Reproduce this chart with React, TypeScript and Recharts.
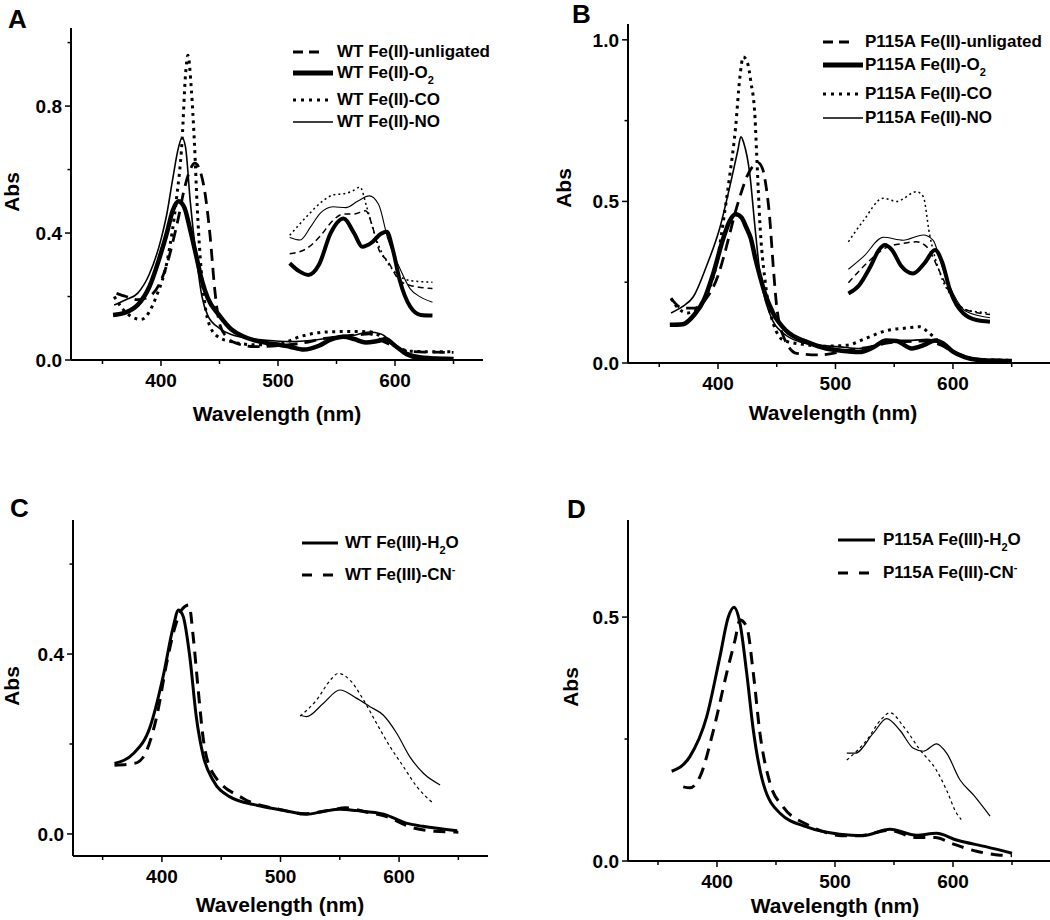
import React from 'react'
import { LineChart, Line, XAxis, YAxis, Legend } from 'recharts'

const FONT = '"Liberation Sans", Arial, Helvetica, sans-serif'

// shared wavelength ticks
const xMajorTicks = [400, 500, 600]
const xMinorTicks = [350, 450, 550, 650]

// ---------- A: WT Fe(II) ----------
const aUnlWl = [362, 370, 380, 390, 400, 405, 410, 415, 420, 425, 429, 433, 437, 442, 446, 450, 456, 465, 480, 500, 520, 540, 555, 570, 578, 590, 600, 610, 625, 650]
const aUnlAbs = [0.21, 0.2, 0.19, 0.2, 0.25, 0.3, 0.37, 0.45, 0.54, 0.6, 0.62, 0.6, 0.54, 0.39, 0.22, 0.115, 0.073, 0.052, 0.042, 0.045, 0.053, 0.068, 0.075, 0.08, 0.082, 0.058, 0.042, 0.028, 0.025, 0.024]
const aO2Wl = [359, 370, 380, 390, 400, 405, 410, 415, 420, 425, 430, 435, 440, 450, 460, 470, 480, 490, 500, 510, 522, 535, 545, 556, 565, 575, 585, 592, 600, 610, 620, 635, 650]
const aO2Abs = [0.142, 0.15, 0.173, 0.23, 0.337, 0.4, 0.47, 0.5, 0.48, 0.41, 0.33, 0.25, 0.195, 0.14, 0.097, 0.075, 0.062, 0.054, 0.049, 0.042, 0.033, 0.045, 0.064, 0.073, 0.066, 0.055, 0.06, 0.065, 0.045, 0.018, 0.007, 0.003, 0.003]
const aCoWl = [360, 370, 383, 396, 406, 413, 418, 421, 423, 426, 428.5, 431, 433.5, 437, 442, 450, 460, 480, 500, 520, 540, 560, 578, 590, 600, 612, 630, 650]
const aCoAbs = [0.2, 0.15, 0.128, 0.2, 0.325, 0.5, 0.69, 0.9, 0.96, 0.85, 0.69, 0.48, 0.325, 0.19, 0.105, 0.07, 0.058, 0.048, 0.05, 0.075, 0.088, 0.09, 0.089, 0.07, 0.045, 0.028, 0.026, 0.026]
const aNoWl = [360, 370, 380, 390, 400, 405, 410, 415, 418, 421, 425, 430, 435, 440, 450, 460, 470, 490, 510, 530, 550, 565, 578, 588, 598, 608, 620, 635, 650]
const aNoAbs = [0.173, 0.19, 0.21, 0.27, 0.38, 0.46, 0.57, 0.67, 0.7, 0.67, 0.5, 0.33, 0.2, 0.14, 0.1, 0.08, 0.071, 0.062, 0.058, 0.062, 0.072, 0.078, 0.088, 0.082, 0.055, 0.028, 0.014, 0.009, 0.007]
// magnified visible region (inset)
const aInsUnlWl = [510, 524, 536, 547, 556, 565, 575, 580, 586, 594, 604, 613, 632]
const aInsUnlAbs = [0.335, 0.35, 0.39, 0.44, 0.46, 0.46, 0.47, 0.43, 0.35, 0.31, 0.25, 0.235, 0.225]
const aInsO2Wl = [510, 518, 526, 535, 545, 556, 565, 572, 580, 588, 593, 598, 604, 613, 622, 632]
const aInsO2Abs = [0.305, 0.28, 0.268, 0.3, 0.4, 0.446, 0.4, 0.357, 0.37, 0.398, 0.404, 0.35, 0.252, 0.168, 0.142, 0.14]
const aInsCoWl = [510, 524, 538, 547, 558, 565, 570, 576, 584, 593, 602, 613, 632]
const aInsCoAbs = [0.393, 0.45, 0.5, 0.52, 0.525, 0.535, 0.545, 0.48, 0.38, 0.31, 0.27, 0.25, 0.245]
const aInsNoWl = [510, 519, 528, 536, 547, 558, 568, 578, 586, 594, 604, 613, 622, 632]
const aInsNoAbs = [0.386, 0.378, 0.42, 0.462, 0.483, 0.48, 0.5, 0.517, 0.49, 0.38, 0.29, 0.224, 0.198, 0.182]

// ---------- B: P115A Fe(II) ----------
const bUnlWl = [360, 370, 380, 390, 400, 405, 410, 415, 420, 425, 430, 434, 438, 441, 444, 447, 450, 456, 467, 487, 512, 530, 545, 560, 575, 590, 600, 610, 620, 650]
const bUnlAbs = [0.2, 0.17, 0.17, 0.2, 0.27, 0.33, 0.4, 0.47, 0.53, 0.58, 0.61, 0.62, 0.6, 0.545, 0.45, 0.3, 0.174, 0.08, 0.03, 0.025, 0.04, 0.05, 0.062, 0.066, 0.068, 0.055, 0.035, 0.02, 0.012, 0.008]
const bO2Wl = [359, 370, 380, 388, 396, 404, 410, 415, 420, 424, 428, 432, 436, 440, 447, 458, 475, 492, 505, 520, 532, 543, 552, 565, 575, 585, 592, 600, 610, 620, 635, 650]
const bO2Abs = [0.118, 0.12, 0.15, 0.195, 0.277, 0.38, 0.44, 0.46, 0.45, 0.42, 0.385, 0.32, 0.265, 0.215, 0.154, 0.1, 0.066, 0.045, 0.038, 0.034, 0.048, 0.07, 0.068, 0.045, 0.055, 0.07, 0.06, 0.035, 0.018, 0.01, 0.007, 0.006]
const bCoWl = [360, 366, 374, 382, 390, 400, 405, 410, 415, 418.5, 421.5, 425, 428, 431.5, 433, 435.7, 440, 447, 456, 472, 490, 510, 525, 543, 560, 572, 579, 590, 600, 610, 620, 650]
const bCoAbs = [0.2, 0.17, 0.155, 0.165, 0.21, 0.33, 0.45, 0.58, 0.73, 0.88, 0.947, 0.93, 0.87, 0.76, 0.64, 0.43, 0.257, 0.123, 0.07, 0.058, 0.052, 0.055, 0.075, 0.1, 0.108, 0.112, 0.095, 0.06, 0.035, 0.02, 0.012, 0.008]
const bNoWl = [360, 370, 379, 390, 401.7, 410, 417, 419.5, 422, 427, 431.5, 435.7, 444, 455.6, 475.5, 504, 520, 540, 550, 565, 578, 590, 600, 610, 620, 650]
const bNoAbs = [0.155, 0.175, 0.205, 0.298, 0.42, 0.545, 0.66, 0.7, 0.68, 0.587, 0.42, 0.277, 0.153, 0.092, 0.06, 0.05, 0.045, 0.06, 0.07, 0.07, 0.073, 0.058, 0.035, 0.02, 0.012, 0.008]
const bInsUnlWl = [511, 527, 542, 557.7, 569, 577.5, 589, 600, 611, 631.5]
const bInsUnlAbs = [0.248, 0.31, 0.355, 0.37, 0.375, 0.36, 0.28, 0.2, 0.165, 0.15]
const bInsO2Wl = [511, 520, 530, 537, 542, 548, 556, 566, 576, 584.7, 591, 597.4, 603, 608.8, 620, 631.5]
const bInsO2Abs = [0.215, 0.24, 0.3, 0.35, 0.365, 0.35, 0.3, 0.277, 0.31, 0.35, 0.31, 0.226, 0.18, 0.154, 0.133, 0.128]
const bInsCoWl = [511, 523.7, 540.7, 552, 569, 574.7, 580, 589, 600, 611, 631.5]
const bInsCoAbs = [0.375, 0.44, 0.51, 0.5, 0.53, 0.515, 0.4, 0.277, 0.2, 0.165, 0.155]
const bInsNoWl = [511, 524, 540.7, 557.7, 574.7, 583, 591.7, 600, 611, 631.5]
const bInsNoAbs = [0.29, 0.33, 0.389, 0.38, 0.396, 0.38, 0.288, 0.216, 0.16, 0.14]

// ---------- C: WT Fe(III) ----------
const cH2oWl = [360, 376, 390, 401, 409.5, 414, 418, 423.5, 429, 435, 443, 457, 480, 502, 522, 536, 550, 564, 587, 606, 620, 649]
const cH2oAbs = [0.157, 0.179, 0.238, 0.35, 0.46, 0.498, 0.483, 0.394, 0.26, 0.172, 0.12, 0.083, 0.064, 0.053, 0.044, 0.05, 0.055, 0.052, 0.044, 0.024, 0.017, 0.007]
const cCnWl = [360, 377, 384, 395.5, 404, 411, 416.6, 422.8, 426.4, 430.6, 435, 443, 468.6, 500, 520, 540, 555, 570, 590, 610, 630, 650]
const cCnAbs = [0.153, 0.157, 0.17, 0.26, 0.38, 0.46, 0.498, 0.509, 0.438, 0.32, 0.209, 0.135, 0.079, 0.054, 0.045, 0.052, 0.058, 0.05, 0.038, 0.015, 0.006, 0.004]
const cInsH2oWl = [516.5, 522, 536, 550, 564, 575.5, 586.8, 598, 609, 620.5, 634.6]
const cInsH2oAbs = [0.264, 0.261, 0.29, 0.32, 0.302, 0.283, 0.264, 0.224, 0.172, 0.135, 0.109]
const cInsCnWl = [516.5, 530.5, 542, 548.8, 558.6, 570, 581, 592.4, 603.6, 615, 629]
const cInsCnAbs = [0.262, 0.298, 0.342, 0.357, 0.342, 0.298, 0.246, 0.194, 0.15, 0.105, 0.068]

// ---------- D: P115A Fe(III) ----------
const dH2oWl = [361.6, 377, 391.3, 402.5, 409.6, 414.4, 419.5, 425.2, 430.8, 439.2, 453.4, 476, 504, 524, 546.6, 569, 586, 603, 628.5, 650]
const dH2oAbs = [0.184, 0.214, 0.296, 0.419, 0.5, 0.52, 0.487, 0.385, 0.268, 0.159, 0.098, 0.07, 0.055, 0.052, 0.065, 0.053, 0.057, 0.043, 0.029, 0.016]
const dCnWl = [371.4, 377, 385.6, 397, 408.2, 415.3, 419.5, 425.2, 430.8, 436.4, 445, 456, 476, 493, 505, 520, 546, 569, 585, 600, 620, 640, 650]
const dCnAbs = [0.152, 0.15, 0.173, 0.268, 0.385, 0.453, 0.494, 0.48, 0.385, 0.262, 0.159, 0.111, 0.075, 0.058, 0.052, 0.052, 0.063, 0.048, 0.048, 0.035, 0.02, 0.012, 0.011]
const dInsH2oWl = [510, 517, 532.5, 543.8, 555, 566.4, 575, 586, 594.6, 606, 617.5, 631.4]
const dInsH2oAbs = [0.221, 0.221, 0.262, 0.292, 0.268, 0.231, 0.225, 0.24, 0.221, 0.166, 0.135, 0.092]
const dInsCnWl = [510, 527, 538.7, 546.6, 558, 572, 586, 594.6, 603, 607]
const dInsCnAbs = [0.207, 0.248, 0.289, 0.304, 0.276, 0.228, 0.186, 0.145, 0.098, 0.085]

type LineStyle = { w: number; dash?: string }
const ST: Record<string, LineStyle> = {
  unl: { w: 2.8, dash: '12 7' },
  o2: { w: 4.5 },
  co: { w: 3, dash: '3 4.5' },
  no: { w: 1.6 },
  insUnl: { w: 1.5, dash: '6 4' },
  insO2: { w: 4 },
  insCo: { w: 1.5, dash: '2 3' },
  insNo: { w: 1.1 },
  h2o: { w: 3 },
  cn: { w: 3, dash: '12 8' },
  insH2o: { w: 1.2 },
  insCn: { w: 1.2, dash: '3 3' },
}

const zip = (wl: number[], abs: number[]) => wl.map((x, i) => ({ x, y: abs[i] }))

type Series = { name: string; data: { x: number; y: number }[]; style: LineStyle }
type LegendItem = { label: string; sub?: string; tail?: string; sup?: string; style: LineStyle; len: number }

const panels = [
  {
    key: 'A',
    box: { left: 0, top: 0 },
    margin: { top: 28, right: 42, bottom: 60, left: 11 },
    xDomain: [323.1, 675.2],
    yDomain: [0, 1.046],
    yMajor: [0, 0.4, 0.8],
    yMinor: [0.2, 0.6, 1.0],
    series: [
      { name: 'aUnl', data: zip(aUnlWl, aUnlAbs), style: ST.unl },
      { name: 'aO2', data: zip(aO2Wl, aO2Abs), style: ST.o2 },
      { name: 'aCo', data: zip(aCoWl, aCoAbs), style: ST.co },
      { name: 'aNo', data: zip(aNoWl, aNoAbs), style: ST.no },
      { name: 'aInsUnl', data: zip(aInsUnlWl, aInsUnlAbs), style: ST.insUnl },
      { name: 'aInsO2', data: zip(aInsO2Wl, aInsO2Abs), style: ST.insO2 },
      { name: 'aInsCo', data: zip(aInsCoWl, aInsCoAbs), style: ST.insCo },
      { name: 'aInsNo', data: zip(aInsNoWl, aInsNoAbs), style: ST.insNo },
    ] as Series[],
    legend: {
      x: 293, textX: 337, rows: [52, 73, 100, 122],
      items: [
        { label: 'WT Fe(II)-unligated', style: { w: 3, dash: '10 6' }, len: 26 },
        { label: 'WT Fe(II)-O', sub: '2', style: { w: 5 }, len: 40 },
        { label: 'WT Fe(II)-CO', style: { w: 3, dash: '3 5' }, len: 40 },
        { label: 'WT Fe(II)-NO', style: { w: 1.6 }, len: 40 },
      ] as LegendItem[],
    },
    letter: { x: 8, y: 28 },
    absLabel: { x: 19, y: 192 },
    wlLabel: { x: 277, y: 421 },
  },
  {
    key: 'B',
    box: { left: 525, top: 0 },
    margin: { top: 24, right: 0, bottom: 57, left: 43 },
    xDomain: [323.4, 682.6],
    yDomain: [0, 1.049],
    yMajor: [0, 0.5, 1.0],
    yMinor: [0.25, 0.75],
    series: [
      { name: 'bUnl', data: zip(bUnlWl, bUnlAbs), style: ST.unl },
      { name: 'bO2', data: zip(bO2Wl, bO2Abs), style: ST.o2 },
      { name: 'bCo', data: zip(bCoWl, bCoAbs), style: ST.co },
      { name: 'bNo', data: zip(bNoWl, bNoAbs), style: ST.no },
      { name: 'bInsUnl', data: zip(bInsUnlWl, bInsUnlAbs), style: ST.insUnl },
      { name: 'bInsO2', data: zip(bInsO2Wl, bInsO2Abs), style: ST.insO2 },
      { name: 'bInsCo', data: zip(bInsCoWl, bInsCoAbs), style: ST.insCo },
      { name: 'bInsNo', data: zip(bInsNoWl, bInsNoAbs), style: ST.insNo },
    ] as Series[],
    legend: {
      x: 298, textX: 340, rows: [42, 65, 94, 118],
      items: [
        { label: 'P115A Fe(II)-unligated', style: { w: 3, dash: '10 6' }, len: 26 },
        { label: 'P115A Fe(II)-O', sub: '2', style: { w: 5 }, len: 40 },
        { label: 'P115A Fe(II)-CO', style: { w: 3, dash: '3 5' }, len: 40 },
        { label: 'P115A Fe(II)-NO', style: { w: 1.6 }, len: 40 },
      ] as LegendItem[],
    },
    letter: { x: 47, y: 23 },
    absLabel: { x: 46, y: 188 },
    wlLabel: { x: 308, y: 420 },
  },
  {
    key: 'C',
    box: { left: 0, top: 460 },
    margin: { top: 60, right: 37, bottom: 24, left: 13 },
    xDomain: [325, 675],
    yDomain: [-0.049, 0.698],
    yMajor: [0, 0.4],
    yMinor: [0.2, 0.6],
    series: [
      { name: 'cH2o', data: zip(cH2oWl, cH2oAbs), style: ST.h2o },
      { name: 'cCn', data: zip(cCnWl, cCnAbs), style: ST.cn },
      { name: 'cInsH2o', data: zip(cInsH2oWl, cInsH2oAbs), style: ST.insH2o },
      { name: 'cInsCn', data: zip(cInsCnWl, cInsCnAbs), style: ST.insCn },
    ] as Series[],
    legend: {
      x: 302, textX: 345, rows: [83, 115],
      items: [
        { label: 'WT Fe(III)-H', sub: '2', tail: 'O', style: { w: 3 }, len: 36 },
        { label: 'WT Fe(III)-CN', sup: '-', style: { w: 3, dash: '10 11' }, len: 36 },
      ] as LegendItem[],
    },
    letter: { x: 10, y: 57 },
    absLabel: { x: 19, y: 226 },
    wlLabel: { x: 280, y: 452 },
  },
  {
    key: 'D',
    box: { left: 525, top: 460 },
    margin: { top: 60, right: 0, bottom: 19, left: 43 },
    xDomain: [324.6, 682.2],
    yDomain: [0, 0.699],
    yMajor: [0, 0.5],
    yMinor: [0.25],
    series: [
      { name: 'dH2o', data: zip(dH2oWl, dH2oAbs), style: ST.h2o },
      { name: 'dCn', data: zip(dCnWl, dCnAbs), style: ST.cn },
      { name: 'dInsH2o', data: zip(dInsH2oWl, dInsH2oAbs), style: ST.insH2o },
      { name: 'dInsCn', data: zip(dInsCnWl, dInsCnAbs), style: ST.insCn },
    ] as Series[],
    legend: {
      x: 313, textX: 358, rows: [80, 113],
      items: [
        { label: 'P115A Fe(III)-H', sub: '2', tail: 'O', style: { w: 3 }, len: 37 },
        { label: 'P115A Fe(III)-CN', sup: '-', style: { w: 3, dash: '10 11' }, len: 37 },
      ] as LegendItem[],
    },
    letter: { x: 42, y: 58 },
    absLabel: { x: 53, y: 227 },
    wlLabel: { x: 310, y: 453 },
  },
]

const makeYTick = (majors: number[]) => (props: any) => {
  const { x, y, payload } = props
  const major = majors.some((m) => Math.abs(m - payload.value) < 1e-9)
  return (
    <g>
      <line x1={x} x2={x - (major ? 6 : 3.5)} y1={y} y2={y} stroke="#000" strokeWidth={1.5} />
      {major && (
        <text x={x - 9} y={y + 7} textAnchor="end" fontFamily={FONT} fontWeight="bold" fontSize={19} fill="#000">
          {payload.value.toFixed(1)}
        </text>
      )}
    </g>
  )
}

const XTick = (props: any) => {
  const { x, y, payload } = props
  const major = xMajorTicks.includes(payload.value)
  return (
    <g>
      <line x1={x} x2={x} y1={y} y2={y + (major ? 6 : 4)} stroke="#000" strokeWidth={1.5} />
      {major && (
        <text x={x} y={y + 27} textAnchor="middle" fontFamily={FONT} fontWeight="bold" fontSize={19} fill="#000">
          {payload.value}
        </text>
      )}
    </g>
  )
}

function PanelLegend({ spec }: { spec: any }) {
  return (
    <div style={{ position: 'relative', width: 240, height: 130, fontFamily: FONT, fontWeight: 'bold', fontSize: 17, color: '#000' }}>
      {spec.items.map((it: LegendItem, i: number) => (
        <div
          key={it.label}
          style={{ position: 'absolute', left: 0, top: spec.rows[i] - 11, height: 22, display: 'flex', alignItems: 'center', whiteSpace: 'nowrap' }}
        >
          <svg width={spec.textX - spec.x} height={22} style={{ display: 'block' }}>
            <line x1={0} x2={it.len} y1={11} y2={11} stroke="#000" strokeWidth={it.style.w} strokeDasharray={it.style.dash} />
          </svg>
          <span>
            {it.label}
            {it.sub && <span style={{ fontSize: 11, position: 'relative', top: 6 }}>{it.sub}</span>}
            {it.tail}
            {it.sup && <span style={{ fontSize: 11, position: 'relative', top: -7 }}>{it.sup}</span>}
          </span>
        </div>
      ))}
    </div>
  )
}

function Panel({ p }: { p: (typeof panels)[number] }) {
  return (
    <div style={{ position: 'absolute', left: p.box.left, top: p.box.top, width: 525, height: 460 }}>
      <LineChart width={525} height={460} margin={p.margin}>
        <XAxis
          dataKey="x"
          type="number"
          domain={p.xDomain}
          allowDataOverflow
          ticks={[...xMajorTicks, ...xMinorTicks].sort((a, b) => a - b)}
          interval={0}
          height={40}
          tickLine={false}
          tickSize={0}
          tickMargin={0}
          tick={XTick}
          axisLine={{ stroke: '#000', strokeWidth: 2 }}
        />
        <YAxis
          dataKey="y"
          type="number"
          domain={p.yDomain}
          allowDataOverflow
          ticks={[...p.yMajor, ...p.yMinor].sort((a, b) => a - b)}
          interval={0}
          width={60}
          tickLine={false}
          tickSize={0}
          tickMargin={0}
          tick={makeYTick(p.yMajor)}
          axisLine={{ stroke: '#000', strokeWidth: 2 }}
        />
        {p.series.map((s) => (
          <Line
            key={s.name}
            name={s.name}
            data={s.data}
            dataKey="y"
            type="monotone"
            dot={false}
            activeDot={false}
            stroke="#000"
            strokeWidth={s.style.w}
            strokeDasharray={s.style.dash}
            isAnimationActive={false}
          />
        ))}
        <Legend
          layout="vertical"
          align="center"
          verticalAlign="middle"
          wrapperStyle={{ left: p.legend.x, top: 0, width: 240, height: 130, right: 'auto', bottom: 'auto' }}
          content={() => <PanelLegend spec={p.legend} />}
        />
      </LineChart>
      <svg width={525} height={460} style={{ position: 'absolute', left: 0, top: 0, pointerEvents: 'none', overflow: 'visible' }}>
        <text x={p.letter.x} y={p.letter.y} fontFamily={FONT} fontWeight="bold" fontSize={26} fill="#000">
          {p.key}
        </text>
        <text
          x={p.absLabel.x}
          y={p.absLabel.y}
          transform={`rotate(-90 ${p.absLabel.x} ${p.absLabel.y})`}
          textAnchor="middle"
          fontFamily={FONT}
          fontWeight="bold"
          fontSize={21}
          fill="#000"
        >
          Abs
        </text>
        <text x={p.wlLabel.x} y={p.wlLabel.y} textAnchor="middle" fontFamily={FONT} fontWeight="bold" fontSize={21} fill="#000">
          Wavelength (nm)
        </text>
      </svg>
    </div>
  )
}

export default function App() {
  return (
    <div style={{ position: 'absolute', left: 0, top: 0, width: 1050, height: 920, background: '#fff', overflow: 'hidden' }}>
      {panels.map((p) => (
        <Panel key={p.key} p={p} />
      ))}
    </div>
  )
}
